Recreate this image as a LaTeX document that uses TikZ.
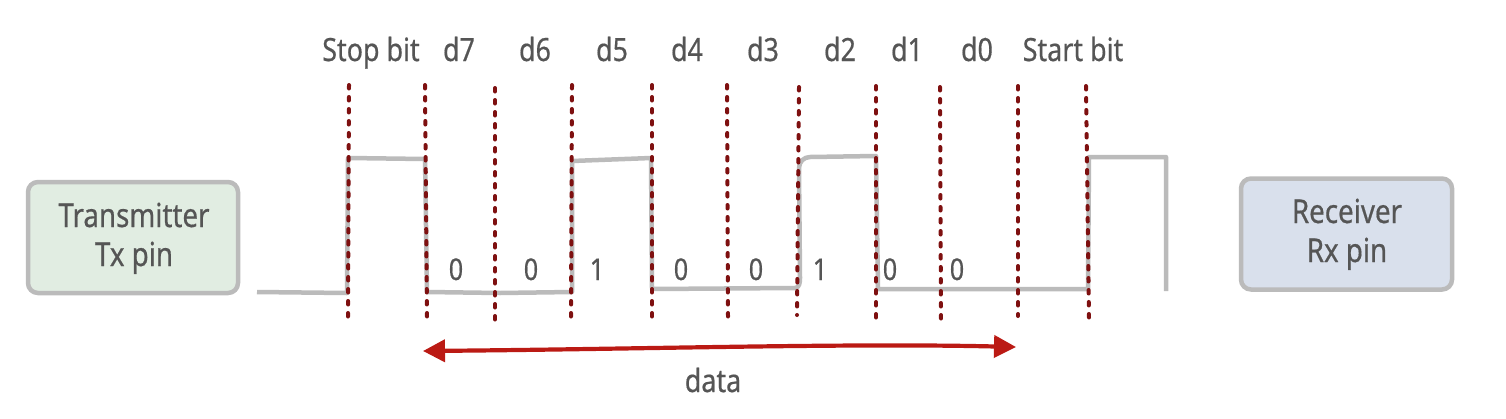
\documentclass[tikz,border=0pt]{standalone}
\usepackage{fontspec}
\setmainfont{Noto Sans}[FakeStretch=0.84,FakeBold=0.5]
\usetikzlibrary{arrows.meta}
\definecolor{txtgray}{HTML}{555555}
\definecolor{sig}{HTML}{BBBBBB}
\definecolor{dotred}{HTML}{7E1010}
\definecolor{arrred}{HTML}{BB1A14}
\definecolor{txfill}{HTML}{E1EDE2}
\definecolor{rxfill}{HTML}{D9E0EC}
\tikzset{
  lbl/.style={text=txtgray, font=\fontsize{32}{38}\selectfont, inner sep=0pt, anchor=base},
  bitval/.style={text=txtgray, font=\fontsize{30}{36}\selectfont, inner sep=0pt, anchor=base},
  boxtext/.style={text=txtgray, font=\fontsize{33}{39}\selectfont, align=center, inner sep=0pt, anchor=base},
  pinbox/.style={draw=sig, line width=4.5pt, rounded corners=10pt, minimum width=#1, minimum height=111pt, inner sep=0pt},
  signal/.style={draw=sig, line width=4.5pt, line join=round},
  bitline/.style={draw=dotred, line width=4pt, line cap=round, dash pattern=on 3.5pt off 8.5pt},
  dataarrow/.style={draw=arrred, line width=4.2pt, {Triangle[length=22pt,width=22pt]}-{Triangle[length=22pt,width=22pt]}}
}
\begin{document}
\begin{tikzpicture}[x=1pt,y=-1pt]
\useasboundingbox (0,0) rectangle (1506,418);
% boxes
\node[pinbox=210pt, fill=txfill] (tx) at (133,237.5) {};
\node[boxtext] (txt) at (134,266) {Transmitter\\Tx pin};
\node[pinbox=211pt, fill=rxfill] (rx) at (1346.5,234) {};
\node[boxtext] (rxt) at (1347,262) {Receiver\\Rx pin};
% top labels
\node[lbl] (l1) at (371,61) {Stop bit};
\node[lbl] (l2) at (459,61) {d7};
\node[lbl] (l3) at (535,61) {d6};
\node[lbl] (l4) at (612,61) {d5};
\node[lbl] (l5) at (687,61) {d4};
\node[lbl] (l6) at (763,61) {d3};
\node[lbl] (l7) at (840,61) {d2};
\node[lbl] (l8) at (907,61) {d1};
\node[lbl] (l9) at (977,61) {d0};
\node[lbl] (l10) at (1073,61) {Start bit};
% signal
\draw[signal] (257,292) -- (347,293) -- (348,158) -- (425,159) -- (427,292) -- (500,293) -- (572,292)
  -- (572,161) -- (651,158) -- (652,289) -- (795,288) to[out=0,in=-90] (800,278) -- (799,168) to[out=90,in=180] (810,157) -- (876,156)
  -- (878,289) -- (1088,289) -- (1089,157) -- (1166,157) -- (1166,291);
% bit separators
\draw[bitline] (349,85) -- (348,318);
\draw[bitline] (425,85) -- (427,318);
\draw[bitline] (495,88) -- (495,322);
\draw[bitline] (572,85) -- (571,318);
\draw[bitline] (652,85) -- (652,318);
\draw[bitline] (727,85) -- (728,318);
\draw[bitline] (799,87) -- (797,315);
\draw[bitline] (876,86) -- (876,320);
\draw[bitline] (940,87) -- (941,322);
\draw[bitline] (1018,86) -- (1018,316);
\draw[bitline] (1086,86) -- (1089,320);
% bit values
\node[bitval] (b1) at (456,280) {0};
\node[bitval] (b2) at (531,280) {0};
\node[bitval] (b3) at (597,280) {1};
\node[bitval] (b4) at (681,280) {0};
\node[bitval] (b5) at (756,280) {0};
\node[bitval] (b6) at (820,280) {1};
\node[bitval] (b7) at (890,280) {0};
\node[bitval] (b8) at (957,280) {0};
% data arrow
\coordinate (da) at (423,351);
\coordinate (db) at (1016,347);
\draw[dataarrow] (da) .. controls (650,349) and (850,343) .. (db);
\node[lbl] (data) at (713,392) {data};
\end{tikzpicture}
\end{document}
